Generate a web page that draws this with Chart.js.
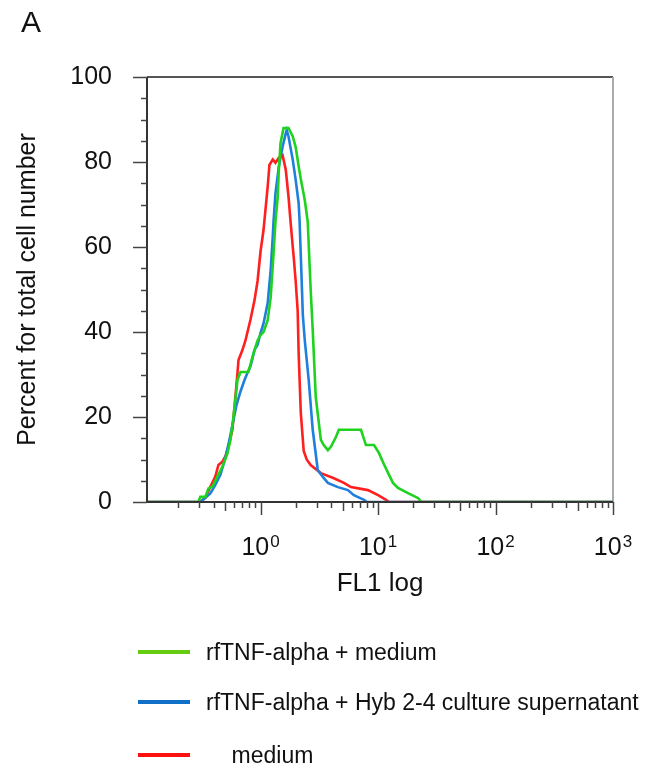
<!DOCTYPE html>
<html>
<head>
<meta charset="utf-8">
<script src="https://cdn.jsdelivr.net/npm/chart.js@4.4.1/dist/chart.umd.min.js"></script>
<style>
  html, body { margin: 0; padding: 0; background: #fff; }
</style>
</head>
<body>
<canvas id="miGrafica" width="664" height="769"></canvas>
<script>
// datos (FL1 log vs % de celulas)
const greenX = [0.108, 0.295, 0.307, 0.339, 0.360, 0.389, 0.429, 0.473, 0.522, 0.554, 0.588, 0.636, 0.675, 0.789, 0.871, 0.943, 1.0, 1.06, 1.15, 1.22, 1.29, 1.34, 1.40, 1.43, 1.48, 1.57, 1.73, 1.88, 1.99, 2.11, 2.20, 2.29, 2.38, 2.52, 2.67, 2.78, 2.95, 3.26, 3.45, 3.74, 3.97, 4.38, 4.64, 7.16, 7.89, 9.24, 10.2, 11.0, 12.2, 13.4, 14.8, 18.0, 22.0, 23.4, 1000]
const greenY = [0, 0, 1.2, 1.2, 3.2, 3.6, 6, 8.3, 11.4, 14.6, 20, 28.7, 30.6, 30.6, 35, 38, 39.3, 40, 42.8, 48.2, 58.5, 66, 71.8, 78, 84.5, 88, 88, 86, 83.5, 79, 76, 73.5, 71, 66, 50, 40.5, 24.7, 14.6, 13.4, 12.2, 13, 15.3, 17, 17, 13.4, 13.4, 11.5, 9.4, 6.8, 4.5, 3.3, 2.1, 0.9, 0, 0]

const blueX = [0.108, 0.307, 0.339, 0.374, 0.412, 0.455, 0.502, 0.543, 0.588, 0.624, 0.675, 0.730, 0.774, 0.822, 0.889, 0.943, 1.0, 1.06, 1.15, 1.22, 1.27, 1.29, 1.34, 1.43, 1.54, 1.64, 1.67, 1.73, 1.88, 1.99, 2.11, 2.15, 2.22, 2.29, 2.38, 2.57, 2.78, 3.07, 3.39, 3.74, 4.55, 5.54, 6.23, 7.59, 8.05, 1000]
const blueY = [0, 0, 1, 2, 4, 6.4, 10.4, 14.6, 19.3, 22.8, 26, 28.7, 30.4, 32, 35.8, 37, 39.8, 42, 46.8, 54.6, 62.4, 66, 72.7, 78.9, 83.6, 86.8, 87.5, 86, 80.5, 75.8, 70.3, 66, 55, 44, 38, 28.7, 17, 7.5, 5.9, 4.5, 3.5, 2.8, 1.6, 0.5, 0, 0]

const redX = [0.108, 0.307, 0.339, 0.374, 0.412, 0.438, 0.473, 0.502, 0.532, 0.576, 0.611, 0.636, 0.649, 0.702, 0.744, 0.822, 0.889, 0.943, 1.0, 1.06, 1.15, 1.19, 1.27, 1.34, 1.43, 1.54, 1.64, 1.73, 1.80, 1.88, 1.91, 1.99, 2.07, 2.11, 2.20, 2.33, 2.47, 2.67, 3.26, 4.21, 5.12, 5.88, 8.21, 10.0, 11.7, 12.4, 1000]
const redY = [0, 0, 1, 3.6, 6, 8.7, 9.5, 10.7, 13, 17, 24.8, 30.3, 33.4, 35.8, 38, 43, 47.5, 52, 59, 64, 74.2, 79.3, 80.6, 79.8, 81, 81.6, 78.1, 71.8, 66, 60, 58, 52, 45, 35, 21, 12, 10, 8.7, 6.8, 5.6, 4.5, 3.5, 2.8, 1.6, 0.5, 0, 0]

const etiquetas = ['rfTNF-alpha + medium', 'rfTNF-alpha + Hyb 2-4 culture supernatant', '    medium']
const xTickValues = [1, 10, 100, 1000]
const xTickBase = ['10', '10', '10', '10']
const xTickExp = ['0', '1', '2', '3']
const yTickValues = [0, 20, 40, 60, 80, 100]
const xMin = 0.108
const xMax = 1000

const fuente = "'Liberation Sans', Arial, sans-serif"
const coloresLinea = ['#1fd21f', '#1f7fdc', '#ff1f1f']
const coloresLeyenda = ['#66cc11', '#1070c8', '#ff1010']

function puntos(xs, ys) {
    return xs.map((x, i) => ({ x: x, y: ys[i] }))
}

// marco, ticks y leyenda dibujados a mano
const marco = {
    id: 'marco',
    afterDatasetsDraw(chart) {
        const ctx = chart.ctx
        const a = chart.chartArea
        const xs = chart.scales.x
        const ys = chart.scales.y
        ctx.save()
        ctx.lineWidth = 2
        ctx.strokeStyle = '#555'
        ctx.beginPath(); ctx.moveTo(a.left, a.top); ctx.lineTo(a.right, a.top); ctx.stroke()
        ctx.strokeStyle = '#aaa'
        ctx.beginPath(); ctx.moveTo(a.right, a.top); ctx.lineTo(a.right, a.bottom); ctx.stroke()
        ctx.strokeStyle = '#333'
        ctx.beginPath(); ctx.moveTo(a.left, a.top); ctx.lineTo(a.left, a.bottom); ctx.lineTo(a.right, a.bottom); ctx.stroke()

        ctx.lineWidth = 1.5
        ctx.strokeStyle = '#444'
        for (let v = 0; v <= 100; v += 5) {
            const py = Math.round(ys.getPixelForValue(v)) + 0.5
            const largo = v % 20 === 0 ? 14 : 6
            ctx.beginPath(); ctx.moveTo(a.left - largo, py); ctx.lineTo(a.left, py); ctx.stroke()
        }
        for (let d = -1; d <= 3; d++) {
            for (let m = 1; m <= 9; m++) {
                const v = m * Math.pow(10, d)
                if (v < xMin || v > xMax * 1.0001) continue
                const px = Math.round(xs.getPixelForValue(v)) + 0.5
                const largo = m === 1 ? 13 : (m === 5 ? 9 : 6)
                ctx.beginPath(); ctx.moveTo(px, a.bottom); ctx.lineTo(px, a.bottom + largo); ctx.stroke()
            }
        }

        // etiquetas 10^n con exponente elevado
        ctx.fillStyle = '#111'
        ctx.textBaseline = 'alphabetic'
        ctx.textAlign = 'left'
        xTickValues.forEach((v, i) => {
            const px = xs.getPixelForValue(v)
            ctx.font = '25px ' + fuente
            const wb = ctx.measureText(xTickBase[i]).width
            ctx.font = '17px ' + fuente
            const we = ctx.measureText(xTickExp[i]).width
            const x0 = px - (wb + 1 + we) / 2
            ctx.font = '25px ' + fuente
            ctx.fillText(xTickBase[i], x0, a.bottom + 53)
            ctx.font = '17px ' + fuente
            ctx.fillText(xTickExp[i], x0 + wb + 1, a.bottom + 45)
        })
        ctx.restore()
    },
    afterDraw(chart) {
        const ctx = chart.ctx
        ctx.save()
        ctx.fillStyle = '#111'
        ctx.font = '30px ' + fuente
        ctx.textBaseline = 'alphabetic'
        ctx.fillText('A', 21, 32)

        const filas = [652, 702, 755]
        chart.data.datasets.forEach((ds, i) => {
            ctx.strokeStyle = coloresLeyenda[i]
            ctx.lineWidth = 4
            ctx.beginPath(); ctx.moveTo(138, filas[i]); ctx.lineTo(190, filas[i]); ctx.stroke()
            ctx.fillStyle = '#111'
            ctx.font = '23px ' + fuente
            ctx.textBaseline = 'middle'
            ctx.fillText(ds.label, 206, filas[i] + 2)
        })
        ctx.restore()
    }
}

let miCanvas = document.getElementById('miGrafica').getContext('2d')

let chart = new Chart(miCanvas, {
    type: 'line',
    data: {
        datasets: [
            { label: etiquetas[0], data: puntos(greenX, greenY), borderColor: coloresLinea[0], borderWidth: 2.6, pointRadius: 0, tension: 0, fill: false },
            { label: etiquetas[1], data: puntos(blueX, blueY), borderColor: coloresLinea[1], borderWidth: 2.6, pointRadius: 0, tension: 0, fill: false },
            { label: etiquetas[2], data: puntos(redX, redY), borderColor: coloresLinea[2], borderWidth: 2.6, pointRadius: 0, tension: 0, fill: false }
        ]
    },
    options: {
        responsive: false,
        animation: false,
        devicePixelRatio: 1,
        layout: { padding: { top: 77, right: 51, left: 0, bottom: 0 } },
        plugins: { legend: { display: false }, tooltip: { enabled: false } },
        scales: {
            x: {
                type: 'logarithmic',
                min: xMin,
                max: xMax,
                grid: { display: false, drawTicks: false },
                border: { display: false },
                ticks: { display: false },
                title: { display: true, text: 'FL1 log', color: '#111', font: { family: fuente, size: 26 }, padding: { top: 0, bottom: 170 } },
                afterFit: function (s) { s.height = 267 }
            },
            y: {
                min: 0,
                max: 100,
                grid: { display: false, drawTicks: false },
                border: { display: false },
                afterBuildTicks: function (s) { s.ticks = yTickValues.map(v => ({ value: v })) },
                ticks: { padding: 35, color: '#111', font: { family: fuente, size: 25 } },
                title: { display: true, text: 'Percent for total cell number', color: '#111', font: { family: fuente, size: 25 }, padding: { top: 13, bottom: 0 } },
                afterFit: function (s) { s.width = 147 }
            }
        }
    },
    plugins: [marco]
})
</script>
</body>
</html>
